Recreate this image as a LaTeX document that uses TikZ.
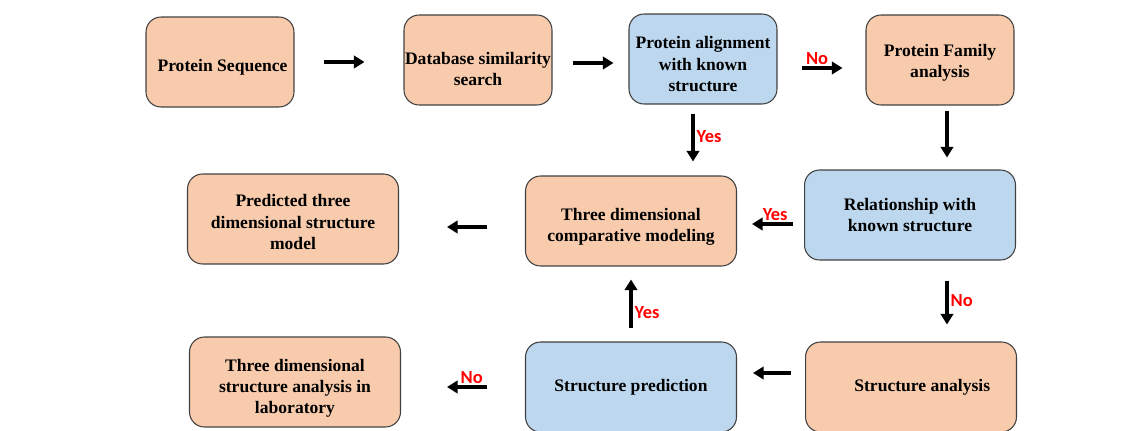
\documentclass[tikz,border=0pt]{standalone}
\usepackage{fontspec}
\setmainfont{Liberation Serif}
\newfontfamily\lblfont{Carlito}
\usetikzlibrary{arrows.meta}
\definecolor{boxorange}{HTML}{F8CBAD}
\definecolor{boxblue}{HTML}{BDD7EE}
\definecolor{boxline}{HTML}{404040}
% pushes the text of a box down a little
\newcommand\textdrop[1]{\rule{0pt}{\dimexpr 7pt+#1\relax}}

\begin{document}
\begin{tikzpicture}[x=0.02cm,y=-0.02cm,
    box/.style={draw=boxline, line width=0.6pt, rounded corners=0.3cm, align=center,
      inner sep=0pt, font=\bfseries\fontsize{10}{12}\selectfont},
    smallbox/.style={box, minimum width=2.96cm, minimum height=1.8cm},
    widebox/.style={box, minimum width=4.22cm, minimum height=1.8cm},
    arr/.style={line width=2.2pt, -{Triangle[length=6pt,width=7pt]}},
    lbl/.style={text=red, inner sep=1pt, font=\lblfont\bfseries\fontsize{10.5}{12}\selectfont}]
    \useasboundingbox (0,0) rectangle (1140,430);
    % top row
    \node[smallbox, fill=boxorange] (seq) at (220,62) {\textdrop{5.7pt}\hspace{0.1cm}Protein Sequence};
    \node[smallbox, fill=boxorange] (dbsearch) at (478,60) {\textdrop{10pt}Database similarity\\search};
    \node[smallbox, fill=boxblue] (align) at (703,59) {\textdrop{5.7pt}Protein alignment\\with known\\structure};
    \node[smallbox, fill=boxorange] (family) at (940,60) {\textdrop{3.4pt}Protein Family\\analysis};
    % middle row
    \node[widebox, fill=boxblue] (relation) at (910,215) {Relationship with\\known structure};
    \node[widebox, fill=boxorange] (compmodel) at (631,221) {\textdrop{6.8pt}Three dimensional\\comparative modeling};
    \node[widebox, fill=boxorange] (predicted) at (293,219) {\textdrop{3.4pt}Predicted three\\dimensional structure\\model};
    % bottom row
    \node[widebox, fill=boxorange] (stranalysis) at (911,387) {\hspace{0.45cm}Structure analysis};
    \node[widebox, fill=boxblue] (strpred) at (631,387) {Structure prediction};
    \node[widebox, fill=boxorange] (labanalysis) at (295,382) {\textdrop{6.8pt}Three dimensional\\structure analysis in\\laboratory};

    \draw[arr, shorten <=0.58cm, shorten >=0.78cm] (seq.east) -- (seq.east -| dbsearch.west);
    \draw[arr, shorten <=0.4cm, shorten >=0.3cm] ([yshift=-0.06cm]dbsearch.east) -- ([yshift=-0.06cm]dbsearch.east -| align.west);
    \draw[arr, shorten <=0.48cm, shorten >=0.46cm] ([yshift=-0.18cm]align.east) -- ([yshift=-0.18cm]align.east -| family.west)
      node[lbl, pos=.45, above] {No};
    \draw[arr, shorten <=0.18cm, shorten >=0.28cm] ([xshift=-0.2cm]align.south) -- ([xshift=-0.2cm]align.south |- compmodel.north)
      node[lbl, pos=.45, right] {Yes};
    \draw[arr, shorten <=0.1cm, shorten >=0.24cm] ([xshift=0.14cm]family.south) -- ([xshift=0.14cm]family.south |- relation.north);
    \draw[arr, shorten <=0.22cm, shorten >=0.3cm] ([yshift=-0.06cm]relation.west |- compmodel.east) -- ([yshift=-0.06cm]compmodel.east)
      node[lbl, pos=.43, above] {Yes};
    \draw[arr, shorten <=0.76cm, shorten >=0.96cm] ([yshift=-0.12cm]compmodel.west) -- ([yshift=-0.12cm]compmodel.west -| predicted.east);
    \draw[arr, shorten <=0.4cm, shorten >=0.34cm] ([xshift=0.14cm]relation.south -| family.south) -- ([xshift=0.14cm]stranalysis.north -| family.south)
      node[lbl, pos=.5, right] {No};
    \draw[arr, shorten <=0.28cm, shorten >=0.32cm] ([yshift=0.28cm]stranalysis.west) -- ([yshift=0.28cm]stranalysis.west -| strpred.east);
    \draw[arr, shorten <=0.26cm, shorten >=0.26cm] (strpred.north) -- (compmodel.south)
      node[lbl, pos=.38, right] {Yes};
    \draw[arr, shorten <=0.76cm, shorten >=0.92cm] (strpred.west) -- (strpred.west -| labanalysis.east)
      node[lbl, pos=.43, above] {No};
  \end{tikzpicture}
\end{document}
